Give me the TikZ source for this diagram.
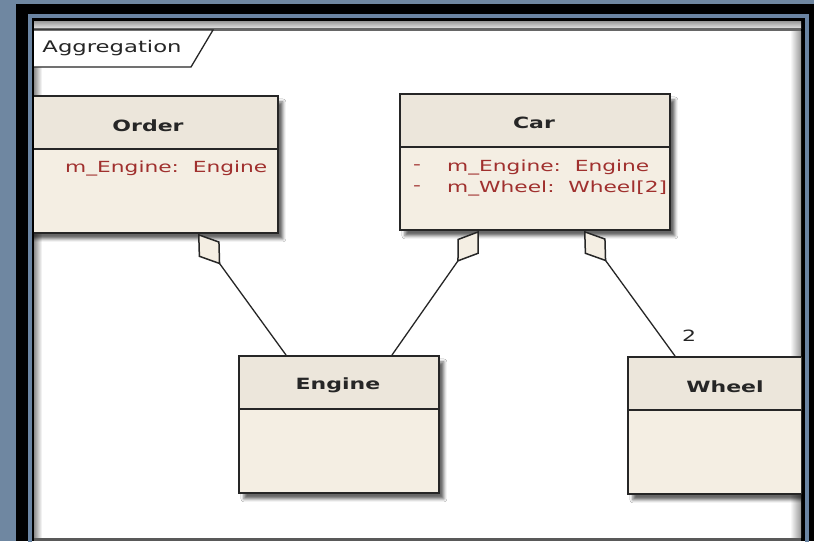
\documentclass[tikz,border=0pt]{standalone}
\usepackage{fontspec}
\setmainfont{DejaVu Sans}
\usetikzlibrary{arrows.meta,shadows.blur}

\definecolor{bgblue}{HTML}{6F87A1}
\definecolor{frameblue}{HTML}{6A84A2}
\definecolor{cream}{HTML}{F4EEE3}
\definecolor{creamhead}{HTML}{ECE6DB}
\definecolor{attr}{HTML}{A0302E}
\definecolor{ink}{HTML}{262626}

% wide sans lettering used throughout the diagram
\newcommand{\widetext}[1]{\scalebox{1.42}[1]{#1}}

\tikzset{
  classbox/.style={rectangle, draw=ink, line width=1.8pt, fill=cream,
    inner sep=0pt, anchor=north west,
    blur shadow={shadow xshift=5pt, shadow yshift=-6pt,
      shadow blur radius=3pt, shadow opacity=60},
    path picture={
      \fill[creamhead] (path picture bounding box.north west)
        rectangle ([yshift=-53pt]path picture bounding box.north east);
      \draw[ink, line width=1.8pt]
        ([yshift=-53pt]path picture bounding box.north west) --
        ([yshift=-53pt]path picture bounding box.north east);
    }},
  classname/.style={font=\fontsize{15.5}{18}\selectfont\bfseries, text=ink, inner sep=0pt},
  attrtext/.style={font=\fontsize{15.3}{18}\selectfont, text=attr, inner sep=0pt, anchor=west},
  plaintext/.style={font=\fontsize{15.5}{18}\selectfont, text=ink, inner sep=0pt},
  aggline/.style={draw=ink, line width=1.3pt,
    -{Diamond[fill=cream, length=38pt, width=26pt, line width=1.5pt]}},
}

\begin{document}
\begin{tikzpicture}[x=1pt,y=-1pt]
\useasboundingbox (0,0) rectangle (814,541);
\begin{scope}
\clip (0,0) rectangle (814,541);

% window frame
\fill[bgblue] (0,0) rectangle (814,541);
\fill[black] (16,4) rectangle (814,541);
\draw[frameblue, line width=3.5pt] (29.75,15.75) rectangle (807,580);

% diagram canvas
\fill[white] (34,21) rectangle (801,541);
\shade[top color=black!40, bottom color=black!12] (34,21) rectangle (801,28);
\draw[black!60, line width=2.5pt] (34,29.5) -- (801,29.5);
\shade[left color=black!45, right color=white] (34,31) rectangle (42,537);
\shade[left color=white, right color=black!40] (790,31) rectangle (801,537);
\draw[black!65, line width=3pt] (34,539.5) -- (801,539.5);

% diagram frame label
\draw[ink, line width=1.3pt, fill=white] (34,30) -- (213,30) -- (191,67) -- (34,67);
\node[font=\fontsize{16}{19}\selectfont, text=ink, inner sep=0pt] (title) at (112,48) {\widetext{Aggregation}};

\begin{scope}
\clip (34,31) rectangle (801,537);

% classes
\node[classbox, minimum width=257pt, minimum height=137pt] (order) at (20,95) {};
\node[classname] (ordername) at (148,126) {\widetext{Order}};
\node[attrtext] (orderattr) at (65,168) {\widetext{m\_Engine:\ \ Engine}};

\node[classbox, minimum width=270pt, minimum height=136pt] (car) at (399,93) {};
\node[classname] (carname) at (534,123) {\widetext{Car}};
\node[attrtext] (cardash1) at (413,167) {\widetext{-}};
\node[attrtext] (cardash2) at (413,188) {\widetext{-}};
\node[attrtext] (carattr1) at (447,167) {\widetext{m\_Engine:\ \ Engine}};
\node[attrtext] (carattr2) at (447,188) {\widetext{m\_Wheel:\ \ Wheel[2]}};

\node[classbox, minimum width=200pt, minimum height=137pt] (engine) at (238,355) {};
\node[classname] (enginename) at (338,385) {\widetext{Engine}};

\node[classbox, minimum width=196pt, minimum height=137pt] (wheel) at (627,356) {};
\node[classname] (wheelname) at (725,387) {\widetext{Wheel}};

% aggregations
\draw[aggline] ([xshift=48pt]engine.north west) -- ([xshift=178pt]order.south west);
\draw[aggline] ([xshift=154pt]engine.north west) -- ([xshift=80pt]car.south west);
\draw[aggline] ([xshift=48pt]wheel.north west) -- ([xshift=185pt]car.south west);
\node[plaintext] (mult) at (689,336) {\widetext{2}};
\end{scope}
\end{scope}
\end{tikzpicture}
\end{document}
